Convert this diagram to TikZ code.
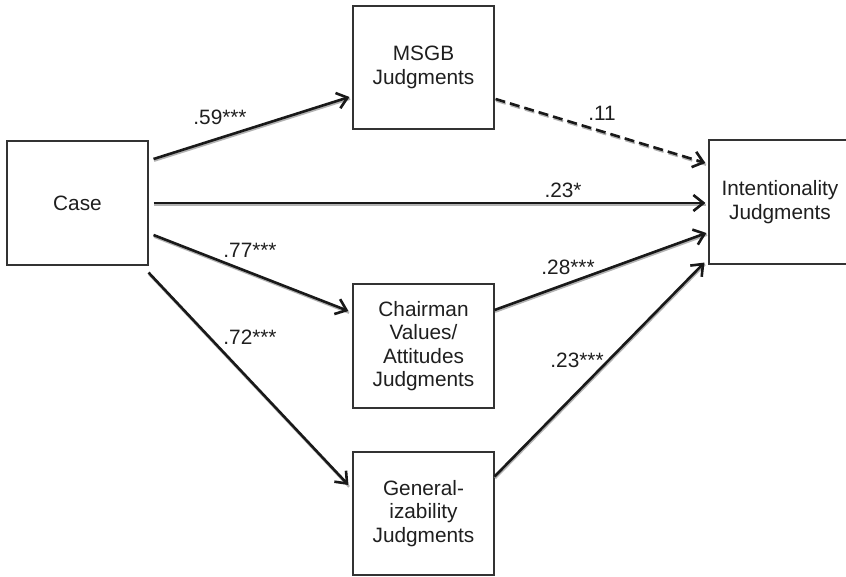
\documentclass[tikz,border=0pt]{standalone}
\usepackage{fontspec}
\setmainfont{Liberation Sans}
\usetikzlibrary{arrows.meta}
\begin{document}
\begin{tikzpicture}[x=1pt,y=-1pt,
  box/.style={draw=black!80, line width=1.1pt, fill=white, align=center,
    inner sep=0pt, font=\fontsize{20.8}{23.3}\selectfont, text=black!88},
  tip/.style={-{Straight Barb[length=10pt,width=16pt,line width=2.6pt]}},
  path/.style={draw=black!90, line width=2.6pt, tip,
    preaction={draw=black!30, line width=2.2pt, -, transform canvas={shift={(0.6pt,-1.8pt)}}}},
  dpath/.style={draw=black!90, line width=2.6pt, tip, dash pattern=on 10pt off 5pt,
    preaction={draw=black!30, line width=2.2pt, -, dash pattern=on 10pt off 5pt, transform canvas={shift={(0.6pt,-1.8pt)}}}},
  lab/.style={font=\fontsize{20.8}{23}\selectfont, text=black!88, inner sep=0pt}]
\useasboundingbox[fill=white] (0,0) rectangle (846,577);
\node[box, minimum width=141pt, minimum height=124pt] (case) at (77.5,203) {Case};
\node[box, minimum width=141pt, minimum height=123pt] (msgb) at (423.5,67.5) {MSGB\\Judgments};
\node[box, minimum width=142pt, minimum height=124pt] (intent) at (780,202) {Intentionality\\Judgments};
\node[box, minimum width=141pt, minimum height=124pt] (chair) at (423.5,346) {Chairman\\Values/\\Attitudes\\Judgments};
\node[box, minimum width=141pt, minimum height=123pt] (gen) at (423.5,513.5) {General-\\izability\\Judgments};

\draw[path] ([shift={(5,-44)}]case.east) -- ([shift={(-3,29.5)}]msgb.west);
\draw[dpath] ([shift={(1,31.5)}]msgb.east) -- ([shift={(-3,-39)}]intent.west);
\draw[path] ([shift={(5,0)}]case.east) -- ([shift={(-3,1)}]intent.west);
\draw[path] ([shift={(5,32)}]case.east) -- ([shift={(-4,-35)}]chair.west);
\draw[path] ([shift={(0,7)}]case.south east) -- ([shift={(-4,-28.5)}]gen.west);
\draw[path] ([shift={(0,-36)}]chair.east) -- ([shift={(-2,31)}]intent.west);
\draw[path] ([shift={(0,-37)}]gen.east) -- ([shift={(-4,-2)}]intent.south west);

\node[lab] (l1) at (220,117) {.59***};
\node[lab] (l2) at (602,113) {.11};
\node[lab] (l3) at (563,190) {.23*};
\node[lab] (l4) at (250,250) {.77***};
\node[lab] (l5) at (250,337) {.72***};
\node[lab] (l6) at (568,267) {.28***};
\node[lab] (l7) at (577,360) {.23***};
\end{tikzpicture}
\end{document}
